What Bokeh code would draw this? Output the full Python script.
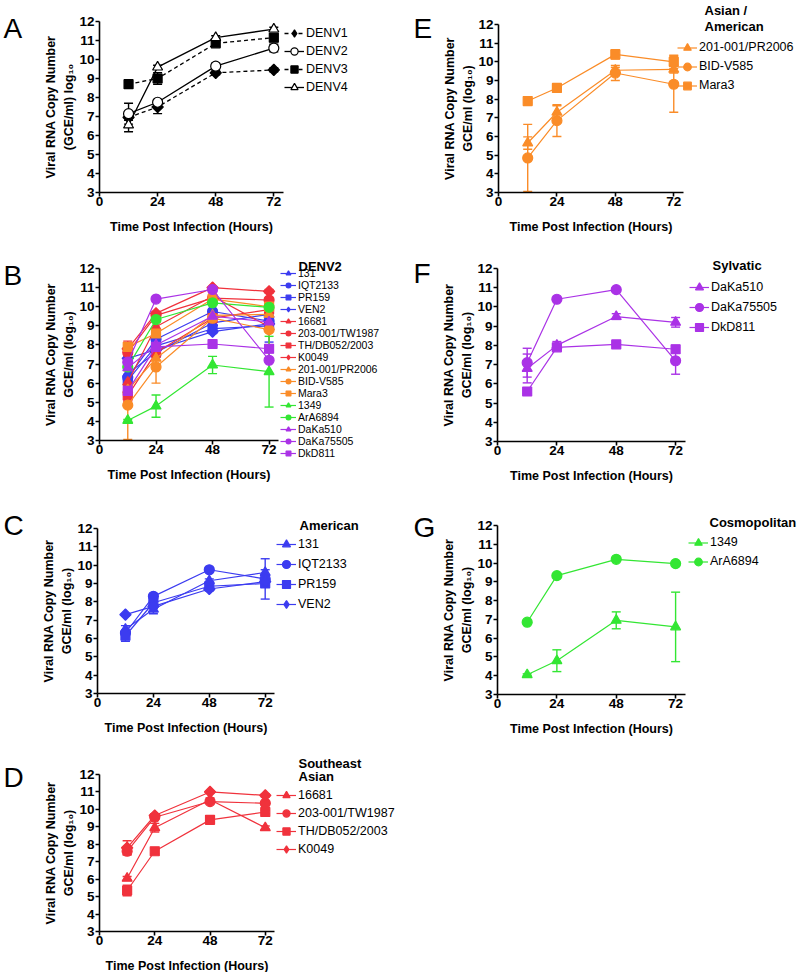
import math
from bokeh.plotting import figure
from bokeh.models import (Range1d, FixedTicker, Legend, LegendItem, Label,
                          Whisker, TeeHead, ColumnDataSource)
from bokeh.layouts import row, column
from bokeh.embed import file_html
from bokeh.resources import INLINE

# ---------------- data ----------------
hours = [12, 24, 48, 72]
x_ticks = [0, 24, 48, 72]
y_ticks = [3, 4, 5, 6, 7, 8, 9, 10, 11, 12]

# Panel A: serotypes
denv1 = [6.95, 7.5, 9.3, 9.45]
denv1_err = [0.15, 0.35, 0.1, 0.1]
denv2 = [7.15, 7.75, 9.65, 10.6]
denv2_err = [0.55, 0.1, 0.15, 0.2]
denv3 = [8.7, 9.0, 10.85, 11.15]
denv3_err = [0.1, 0.3, 0.15, 0.2]
denv4 = [6.55, 9.6, 11.15, 11.6]
denv4_err = [0.35, 0.1, 0.1, 0.1]

# American
s131 = [6.5, 7.6, 9.15, 9.6]
s131_err = [0.2, 0.25, 0.1, 0.15]
iqt2133 = [6.3, 8.3, 9.75, 9.25]
iqt2133_err = [0.1, 0.1, 0.05, 1.1]
pr159 = [6.15, 7.95, 8.85, 9.0]
pr159_err = [0.3, 0.1, 0.1, 0.1]
ven2 = [7.3, 7.75, 8.7, 9.1]
ven2_err = [0.05, 0.1, 0.1, 0.1]

# Southeast Asian
s16681 = [6.05, 8.95, 10.55, 8.95]
s16681_err = [0.1, 0.25, 0.1, 0.1]
tw1987 = [7.6, 9.55, 10.45, 10.35]
tw1987_err = [0.2, 0.1, 0.1, 0.1]
db052 = [5.35, 7.6, 9.4, 9.85]
db052_err = [0.3, 0.15, 0.1, 0.1]
k0049 = [7.8, 9.65, 11.0, 10.8]
k0049_err = [0.4, 0.1, 0.05, 0.1]

# Asian / American
pr2006 = [5.65, 7.3, 9.55, 9.6]
pr2006_err = [0.33, 0.35, 0.15, 0.2]
bidv585 = [4.85, 6.85, 9.4, 8.8]
bidv585_err = [1.8, 0.85, 0.4, 1.5]
mara3 = [7.9, 8.6, 10.4, 10.0]
mara3_err = [0.1, 0.1, 0.25, 0.35]

# Cosmopolitan
s1349 = [4.05, 4.8, 6.95, 6.6]
s1349_err = [0.05, 0.58, 0.45, 1.85]
ara6894 = [6.85, 9.33, 10.2, 9.97]
ara6894_err = [0.05, 0.05, 0.05, 0.05]

# Sylvatic
daka510 = [6.8, 8.0, 9.5, 9.2]
daka510_err = [0.75, 0.2, 0.15, 0.25]
daka75505 = [7.1, 10.4, 10.9, 7.2]
daka75505_err = [0.75, 0.05, 0.05, 0.7]
dkd811 = [5.6, 7.9, 8.05, 7.8]
dkd811_err = [0.1, 0.15, 0.05, 0.2]

american_names = ["131", "IQT2133", "PR159", "VEN2"]
sea_names = ["16681", "203-001/TW1987", "TH/DB052/2003", "K0049"]
asam_names = ["201-001/PR2006", "BID-V585", "Mara3"]
cosmo_names = ["1349", "ArA6894"]
sylv_names = ["DaKa510", "DaKa75505", "DkD811"]
denv_names = ["DENV1", "DENV2", "DENV3", "DENV4"]

# ---------------- styles ----------------
FONT = "Liberation Sans"
AMER = "#3c3cf0"
SEA = "#f0323c"
ASAM = "#fa8c28"
COSMO = "#33e633"
SYLV = "#aa32e6"

MARK = {
    "triangle": ("triangle", 10, 0.0),
    "circle": ("circle", 10, 0.0),
    "square": ("square", 9, 0.0),
    "diamond": ("square", 8, math.pi / 4),
}
order4 = ["triangle", "circle", "square", "diamond"]

american = list(zip(american_names, [s131, iqt2133, pr159, ven2],
                    [s131_err, iqt2133_err, pr159_err, ven2_err], order4))
sea = list(zip(sea_names, [s16681, tw1987, db052, k0049],
               [s16681_err, tw1987_err, db052_err, k0049_err], order4))
asam = list(zip(asam_names, [pr2006, bidv585, mara3],
                [pr2006_err, bidv585_err, mara3_err], order4))
cosmo = list(zip(cosmo_names, [s1349, ara6894], [s1349_err, ara6894_err], order4))
sylv = list(zip(sylv_names, [daka510, daka75505, dkd811],
                [daka510_err, daka75505_err, dkd811_err], order4))

# panel geometry in window pixels (axis origin / axis ends, figure box)
G = {
    "A": dict(left=99, top=21, bottom=192, fw=184, col=0, col_r=400, rtop=0, rbot=240),
    "E": dict(left=498, top=24, bottom=192, fw=185, col=400, col_r=798, rtop=0, rbot=240),
    "B": dict(left=99, top=268, bottom=440, fw=179, col=0, col_r=400, rtop=240, rbot=490),
    "F": dict(left=497, top=268, bottom=441, fw=188, col=400, col_r=798, rtop=240, rbot=490),
    "C": dict(left=97, top=528, bottom=693, fw=177, col=0, col_r=400, rtop=490, rbot=742),
    "Gp": dict(left=497, top=525, bottom=694, fw=188, col=400, col_r=798, rtop=490, rbot=742),
    "D": dict(left=99, top=774, bottom=931, fw=175, col=0, col_r=400, rtop=742, rbot=972),
}
X_END = 76

YL_A = "Viral RNA Copy Number\n(GCE/ml) log\u2081\u2080"
YL = "Viral RNA Copy Number\nGCE/ml (log\u2081\u2080)"


def make_fig(g, ylabel):
    W = g["col_r"] - g["col"]
    H = g["rbot"] - g["rtop"]
    sx = g["fw"] / X_END
    sy = (g["bottom"] - g["top"]) / 9.0
    x0 = -(g["left"] - g["col"]) / sx
    x1 = (g["col_r"] - g["left"]) / sx
    y0 = 3 - (g["rbot"] - g["bottom"]) / sy
    y1 = 12 + (g["top"] - g["rtop"]) / sy
    p = figure(width=W, height=H, min_border=0,
               min_border_left=0, min_border_right=0, min_border_top=0, min_border_bottom=0,
               x_range=Range1d(x0, x1), y_range=Range1d(y0, y1),
               output_backend="svg", toolbar_location=None)
    p.outline_line_color = None
    p.grid.visible = False
    p.background_fill_color = "white"
    p.border_fill_color = "white"
    p.xaxis.ticker = FixedTicker(ticks=x_ticks)
    p.yaxis.ticker = FixedTicker(ticks=y_ticks)
    p.xaxis.fixed_location = 3
    p.yaxis.fixed_location = 0
    p.xaxis.bounds = (0, X_END)
    p.yaxis.bounds = (3, 12)
    for ax in (p.xaxis[0], p.yaxis[0]):
        ax.axis_line_width = 1.6
        ax.axis_line_color = "black"
        ax.major_tick_line_width = 1.6
        ax.major_tick_line_color = "black"
        ax.major_tick_in = 0
        ax.major_tick_out = 4
        ax.minor_tick_line_color = None
        ax.major_label_text_font = FONT
        ax.major_label_text_font_size = "13.5px"
        ax.major_label_text_font_style = "bold"
        ax.major_label_text_color = "black"
        ax.axis_label_text_font = FONT
        ax.axis_label_text_font_size = "12.5px"
        ax.axis_label_text_font_style = "bold"
        ax.axis_label_text_color = "black"
        ax.axis_label_text_line_height = 1.3
    p.xaxis.axis_label = "Time Post Infection (Hours)"
    p.yaxis.axis_label = ylabel
    p.xaxis.major_label_standoff = 0
    p.yaxis.major_label_standoff = 1
    p.xaxis.axis_label_standoff = 11
    p.yaxis.axis_label_standoff = 0
    return p


def series(p, vals, errs, marker, color, fill=None, dash="solid", lw=1.2):
    src = ColumnDataSource(dict(
        x=hours, y=vals,
        upper=[v + e for v, e in zip(vals, errs)],
        lower=[v - e for v, e in zip(vals, errs)]))
    p.add_layout(Whisker(source=src, base="x", upper="upper", lower="lower",
                         line_color=color, line_width=1.4,
                         upper_head=TeeHead(size=9, line_color=color, line_width=1.4),
                         lower_head=TeeHead(size=9, line_color=color, line_width=1.4)))
    lr = p.line("x", "y", source=src, line_color=color, line_width=lw, line_dash=dash)
    mk, size, ang = MARK[marker]
    fc = color if fill is None else fill
    rs = [lr]
    if marker == "diamond":
        # narrow diamond hidden under the rotated square, used as the legend swatch
        dr = p.scatter("x", "y", source=src, marker="diamond", size=10,
                       fill_color=fc, line_color=color, line_width=1.2)
        rs.append(dr)
    sr = p.scatter("x", "y", source=src, marker=mk, size=size, angle=ang,
                   fill_color=fc, line_color=color, line_width=1.2)
    if marker != "diamond":
        rs.append(sr)
    return rs


def add_text(p, g, x_w, base_w, text, size, style):
    p.add_layout(Label(x=x_w - g["col"], y=g["rbot"] - base_w,
                       x_units="screen", y_units="screen", text=text,
                       text_font=FONT, text_font_size=size, text_font_style=style,
                       text_baseline="alphabetic", text_align="left",
                       text_color="black"))


def add_legend(p, g, items, first_c, pitch, text_x, font_size="12.5px", gw=20):
    n = len(items)
    H = n * pitch
    top = first_c - pitch / 2.0
    vx = text_x - gw - 2 - g["col"]
    vy = g["rbot"] - (top + H)
    leg = Legend(items=items, location=(vx, vy), orientation="vertical",
                 spacing=0, padding=0, margin=0, glyph_width=gw, glyph_height=pitch,
                 label_height=pitch, label_standoff=2, label_text_font=FONT,
                 label_text_font_size=font_size, label_text_color="black",
                 border_line_alpha=0, background_fill_alpha=0)
    p.add_layout(leg)


def group_panel(key, groups, title_lines, title_x, title_centers, first_c, pitch, text_x,
                letter, letter_x, letter_base, font_size="12.5px", gw=20):
    g = G[key]
    p = make_fig(g, YL)
    items = []
    for grp, color in groups:
        for name, vals, errs, mk in grp:
            rs = series(p, vals, errs, mk, color)
            items.append(LegendItem(label=name, renderers=rs))
    add_legend(p, g, items, first_c, pitch, text_x, font_size, gw)
    for t, c in zip(title_lines, title_centers):
        add_text(p, g, title_x, c + 4.6, t, "13px", "bold")
    add_text(p, g, letter_x, letter_base, letter, "28px", "normal")
    return p


# ---------------- Panel A ----------------
gA = G["A"]
pA = make_fig(gA, YL_A)
itemsA = []
a_specs = [(denv1, denv1_err, "diamond", "black", "4 3"),
           (denv2, denv2_err, "circle", "white", "solid"),
           (denv3, denv3_err, "square", "black", "4 3"),
           (denv4, denv4_err, "triangle", "white", "solid")]
for name, (vals, errs, mk, fill, dash) in zip(denv_names, a_specs):
    rs = series(pA, vals, errs, mk, "black", fill=fill, dash=dash, lw=1.3)
    itemsA.append(LegendItem(label=name, renderers=rs))
add_legend(pA, gA, itemsA, 33.3, 18, 306)
add_text(pA, gA, 3, 28, "A", "28px", "normal")

# ---------------- Panels B-G ----------------
pB = group_panel("B", [(american, AMER), (sea, SEA), (asam, ASAM), (cosmo, COSMO), (sylv, SYLV)],
                 ["DENV2"], 298, [261], 273, 12, 298, "B", 3, 275, font_size="10.5px", gw=16)
pC = group_panel("C", [(american, AMER)], ["American"], 299, [520], 544, 20, 298, "C", 3, 525)
pD = group_panel("D", [(sea, SEA)], ["Southeast", "Asian"], 298, [758, 771], 795, 18, 298,
                 "D", 3, 777)
pE = group_panel("E", [(asam, ASAM)], ["Asian /", "American"], 704, [5.5, 21], 47, 19, 699,
                 "E", 413, 28)
pF = group_panel("F", [(sylv, SYLV)], ["Sylvatic"], 712, [260], 287, 20, 711, "F", 413, 273)
pG = group_panel("Gp", [(cosmo, COSMO)], ["Cosmopolitan"], 709, [517], 542, 19, 710,
                 "G", 413, 527)

layout = column(row(pA, pE), row(pB, pF), row(pC, pG), row(pD))

with open("out.html", "w") as f:
    f.write(file_html(layout, INLINE, title="Viral RNA copy number"))
